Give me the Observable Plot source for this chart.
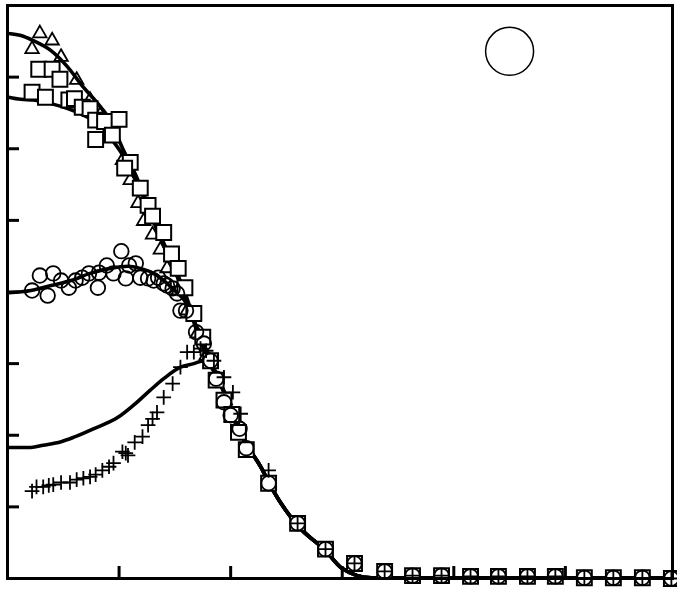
<!DOCTYPE html>
<html><head><meta charset="utf-8">
<script src="https://cdn.jsdelivr.net/npm/d3@7"></script>
<script src="https://cdn.jsdelivr.net/npm/@observablehq/plot@0.6"></script>
<style>body{margin:0;background:#fff}</style>
</head><body><div id="chart"></div>
<script>
// Tick positions
const xTicks = [1, 2, 3, 4, 5];
const yTicks = [1, 2, 3, 4, 5, 6, 7];

// Shared tail of all measured series (bottom right)
const tailX = [2.60, 2.85, 3.11, 3.38, 3.63, 3.89, 4.15, 4.40, 4.66, 4.91, 5.17, 5.43, 5.69, 5.95];
const tailY = [0.77, 0.41, 0.21, 0.10, 0.04, 0.04, 0.03, 0.03, 0.03, 0.03, 0.01, 0.01, 0.01, 0.00];

// Triangles
const triX = [0.29, 0.40, 0.22, 0.48, 0.62, 0.74, 0.83, 0.92, 1.03, 1.10, 1.17, 1.22, 1.30, 1.37, 1.43, 1.53, 1.61, 1.70, 1.78, 1.87, 1.95, 2.02, 2.07, 2.14, 2.34];
const triY = [7.61, 7.51, 7.39, 7.28, 6.96, 6.68, 6.47, 6.19, 5.84, 5.56, 5.24, 4.99, 4.80, 4.59, 4.33, 4.02, 3.74, 3.42, 3.11, 2.79, 2.49, 2.28, 2.07, 1.82, 1.34];

// Squares
const sqX = [0.22, 0.34, 0.28, 0.40, 0.47, 0.55, 0.60, 0.67, 0.74, 0.79, 0.87, 1.00, 0.94, 0.79, 1.10, 1.05, 1.19, 1.26, 1.30, 1.40, 1.47, 1.53, 1.59, 1.67, 1.75, 1.82, 1.87, 1.94, 2.01, 2.07, 2.14, 2.34];
const sqY = [6.79, 6.72, 7.11, 7.11, 6.97, 6.68, 6.70, 6.58, 6.56, 6.40, 6.38, 6.41, 6.19, 6.13, 5.81, 5.73, 5.45, 5.21, 5.06, 4.83, 4.53, 4.33, 4.06, 3.70, 3.37, 3.04, 2.77, 2.49, 2.29, 2.04, 1.80, 1.33];

// Circles
const ciX = [0.22, 0.29, 0.36, 0.41, 0.48, 0.55, 0.61, 0.67, 0.73, 0.81, 0.82, 0.89, 0.95, 1.02, 1.06, 1.09, 1.15, 1.19, 1.26, 1.31, 1.35, 1.40, 1.43, 1.48, 1.52, 1.55, 1.60, 1.69, 1.76, 1.82, 1.87, 1.94, 2.00, 2.08, 2.14, 2.34];
const ciY = [4.02, 4.23, 3.95, 4.26, 4.16, 4.06, 4.16, 4.20, 4.26, 4.06, 4.27, 4.37, 4.26, 4.57, 4.19, 4.37, 4.40, 4.20, 4.19, 4.16, 4.20, 4.12, 4.09, 4.05, 3.98, 3.74, 3.74, 3.44, 3.28, 3.04, 2.79, 2.46, 2.28, 2.09, 1.82, 1.33];

// Pluses
const plX = [0.22, 0.26, 0.32, 0.37, 0.41, 0.48, 0.56, 0.62, 0.68, 0.74, 0.79, 0.85, 0.91, 0.95, 1.03, 1.06, 1.08, 1.14, 1.21, 1.26, 1.30, 1.34, 1.40, 1.48, 1.55, 1.61, 1.67, 1.73, 1.78, 1.85, 1.94, 2.02, 2.09, 2.34];
const plY = [1.22, 1.28, 1.28, 1.30, 1.31, 1.34, 1.34, 1.38, 1.40, 1.42, 1.45, 1.51, 1.56, 1.61, 1.77, 1.75, 1.72, 1.90, 1.98, 2.14, 2.23, 2.32, 2.53, 2.72, 2.95, 3.16, 3.16, 3.21, 3.18, 3.04, 2.81, 2.60, 2.30, 1.51];

// Model curves: shared descent
const descX = [1.87, 2.00, 2.13, 2.27, 2.38, 2.60, 2.85, 3.00, 3.26, 3.38, 3.63, 3.89, 4.15, 4.40, 4.66, 4.91, 5.17, 5.43, 5.69, 5.95];
const descY = [2.84, 2.40, 1.91, 1.56, 1.23, 0.74, 0.39, 0.14, 0.01, 0.01, 0.01, 0.01, 0.01, 0.01, 0.01, 0.01, 0.01, 0.01, 0.01, 0.01];

const lineAX = [0.01, 0.12, 0.23, 0.39, 0.54, 0.68, 0.81, 0.92, 1.03, 1.15, 1.26, 1.37, 1.48, 1.60, 1.69, 1.78];
const lineAY = [7.61, 7.58, 7.51, 7.37, 7.14, 6.86, 6.63, 6.40, 6.01, 5.63, 5.21, 4.79, 4.41, 3.95, 3.53, 3.16];
const lineBX = [0.01, 0.12, 0.23, 0.39, 0.54, 0.68, 0.83, 0.94, 1.03, 1.15, 1.26, 1.37, 1.48, 1.60, 1.69, 1.78];
const lineBY = [6.72, 6.69, 6.68, 6.63, 6.56, 6.47, 6.33, 6.12, 5.92, 5.56, 5.17, 4.75, 4.36, 3.91, 3.49, 3.13];
const lineCX = [0.01, 0.21, 0.39, 0.57, 0.74, 0.92, 1.08, 1.19, 1.31, 1.43, 1.52, 1.60, 1.69, 1.78];
const lineCY = [3.99, 4.02, 4.09, 4.16, 4.26, 4.33, 4.36, 4.33, 4.26, 4.12, 3.99, 3.85, 3.52, 3.16];
const lineDX = [0.01, 0.21, 0.32, 0.48, 0.59, 0.77, 0.99, 1.13, 1.28, 1.40, 1.55, 1.67, 1.76];
const lineDY = [1.83, 1.83, 1.86, 1.91, 1.97, 2.09, 2.25, 2.42, 2.63, 2.79, 2.95, 3.00, 3.04];

// Open circle symbol at top right
const markX = [4.50];
const markY = [7.36];

const rows = (xs, ys) => xs.map((x, i) => ({x, y: ys[i]}));
const withTail = (xs, ys) => rows(xs.concat(tailX), ys.concat(tailY));
const curve = (xs, ys) => rows(xs.concat(descX), ys.concat(descY));

const lineOpts = {x: "x", y: "y", stroke: "black", strokeWidth: 3.6, curve: "monotone-x"};

const chart = Plot.plot({
  width: 677,
  height: 589,
  marginLeft: 7,
  marginRight: 5,
  marginTop: 5,
  marginBottom: 11,
  x: {domain: [0, 5.96], axis: null},
  y: {domain: [0, 8], axis: null},
  marks: [
    Plot.axisX(xTicks, {anchor: "bottom", tickSize: -12, tickFormat: () => "", strokeWidth: 3, label: null}),
    Plot.axisY(yTicks, {anchor: "left", tickSize: -12, tickFormat: () => "", strokeWidth: 3, label: null}),
    Plot.line(curve(lineAX, lineAY), lineOpts),
    Plot.line(curve(lineBX, lineBY), lineOpts),
    Plot.line(curve(lineCX, lineCY), lineOpts),
    Plot.line(curve(lineDX, lineDY), lineOpts),
    Plot.dot(rows(triX, triY), {x: "x", y: "y", symbol: "triangle", r: 5, fill: "none", stroke: "black", strokeWidth: 1.8}),
    Plot.dot(withTail(sqX, sqY), {x: "x", y: "y", symbol: "square", r: 8.4, fill: "white", stroke: "black", strokeWidth: 2}),
    Plot.dot(withTail(ciX, ciY), {x: "x", y: "y", symbol: "circle", r: 7.3, fill: "none", stroke: "black", strokeWidth: 1.8}),
    Plot.dot(withTail(plX, plY), {x: "x", y: "y", symbol: "plus", r: 4.8, fill: "none", stroke: "black", strokeWidth: 1.8}),
    Plot.dot(rows(markX, markY), {x: "x", y: "y", r: 24, fill: "none", stroke: "black", strokeWidth: 1.5}),
    Plot.frame({stroke: "black", strokeWidth: 3})
  ]
});
document.getElementById("chart").appendChild(chart);
</script>
</body></html>
